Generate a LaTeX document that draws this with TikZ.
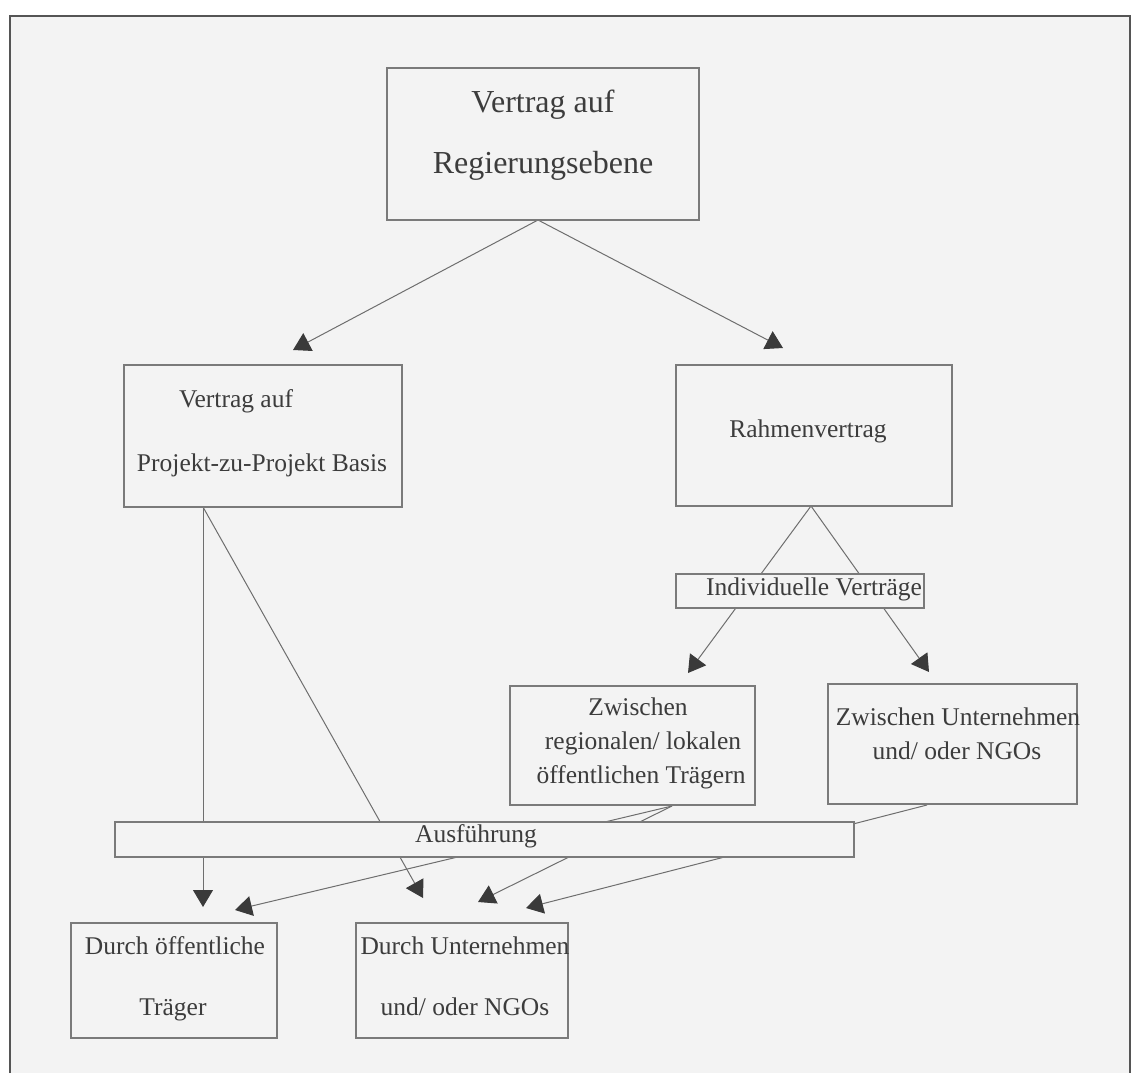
\documentclass[tikz,border=0pt]{standalone}
\usepackage{fontspec}
\setmainfont{Liberation Serif}
\usetikzlibrary{arrows.meta}
\definecolor{bgc}{HTML}{F3F3F3}
\definecolor{framec}{HTML}{555555}
\definecolor{linec}{HTML}{6E6E6E}
\definecolor{boxc}{HTML}{7A7A7A}
\definecolor{txtc}{HTML}{3C3C3C}
\definecolor{tipc}{HTML}{3A3A3A}
\pgfdeclarelayer{bgl}
\pgfdeclarelayer{conn}
\pgfsetlayers{bgl,conn,main}
\begin{document}
\begin{tikzpicture}[x=1pt,y=-1pt,
  box/.style={draw=boxc, line width=1.2pt, fill=bgc, rectangle, inner sep=0pt},
  lbl/.style={text=txtc, font=\fontsize{25.5}{30}\selectfont, inner sep=0pt, anchor=base},
  biglbl/.style={lbl, font=\fontsize{32}{38}\selectfont},
  cline/.style={draw=linec, line width=1pt},
  arr/.style={cline, -{Triangle[length=17pt,width=20pt,color=tipc]}}]
\useasboundingbox (0,0) rectangle (1134,1073);
\begin{pgfonlayer}{bgl}
  \fill[white] (0,0) rectangle (1134,1073);
  \fill[bgc] (10,16) rectangle (1130,1073);
  \draw[framec, line width=2pt] (10,1073) -- (10,16) -- (1130,16) -- (1130,1073);
\end{pgfonlayer}

% boxes
\node[box, minimum width=312pt, minimum height=152pt] (top) at (543,144) {};
\node[box, minimum width=278pt, minimum height=142pt] (lb) at (263,436) {};
\node[box, minimum width=276pt, minimum height=141pt] (rv) at (814,435.5) {};
\node[box, minimum width=248pt, minimum height=34pt] (iv) at (800,591) {};
\node[box, minimum width=245pt, minimum height=119pt] (reg) at (632.5,745.5) {};
\node[box, minimum width=249pt, minimum height=120pt] (zu) at (952.5,744) {};
\node[box, minimum width=739pt, minimum height=35pt] (ausf) at (484.5,839.5) {};
\node[box, minimum width=206pt, minimum height=115pt] (dot) at (174,980.5) {};
\node[box, minimum width=212pt, minimum height=115pt] (du) at (462,980.5) {};

% texts (positioned on their baselines)
\node[biglbl] (t1) at (543,112) {Vertrag auf};
\node[biglbl] (t2) at (543,173) {Regierungsebene};
\node[lbl] (l1) at (236,407) {Vertrag auf};
\node[lbl] (l2) at (262,471) {Projekt-zu-Projekt Basis};
\node[lbl] (r1) at (808,437) {Rahmenvertrag};
\node[lbl] (i1) at (814,595) {Individuelle Verträge};
\node[lbl] (g1) at (638,715) {Zwischen};
\node[lbl] (g2) at (643,749) {regionalen/ lokalen};
\node[lbl] (g3) at (641,783) {öffentlichen Trägern};
\node[lbl] (z1) at (958,725) {Zwischen Unternehmen};
\node[lbl] (z2) at (957,759) {und/ oder NGOs};
\node[lbl] (a1) at (476,842) {Ausführung};
\node[lbl] (d1) at (175,954) {Durch öffentliche};
\node[lbl] (d2) at (173,1015) {Träger};
\node[lbl] (u1) at (465,954) {Durch Unternehmen};
\node[lbl] (u2) at (465,1015) {und/ oder NGOs};

% connector end points
\coordinate (topS) at (538,220);
\coordinate (lbS) at (203,507);
\coordinate (rvS) at (811,506);
\coordinate (regS) at (672,806);
\coordinate (zuS) at (927,805);
\coordinate (tipLB) at (293,350);
\coordinate (tipRV) at (783,348);
\coordinate (tipReg) at (688,673);
\coordinate (tipZU) at (929,672);
\coordinate (tipDO1) at (203,907);
\coordinate (tipDO2) at (235,910);
\coordinate (tipDU1) at (423,898);
\coordinate (tipDU2) at (478,902);
\coordinate (tipDU3) at (526,908);

\begin{pgfonlayer}{conn}
  \draw[arr] (topS) -- (tipLB);
  \draw[arr] (topS) -- (tipRV);
  \draw[arr] (rvS) -- (tipReg);
  \draw[arr] (rvS) -- (tipZU);
  \draw[arr] (lbS) -- (tipDO1);
  \draw[arr] (lbS) -- (tipDU1);
  \draw[arr] (regS) -- (tipDO2);
  \draw[arr] (regS) -- (tipDU2);
  \draw[arr] (zuS) -- (tipDU3);
\end{pgfonlayer}
\end{tikzpicture}
\end{document}
